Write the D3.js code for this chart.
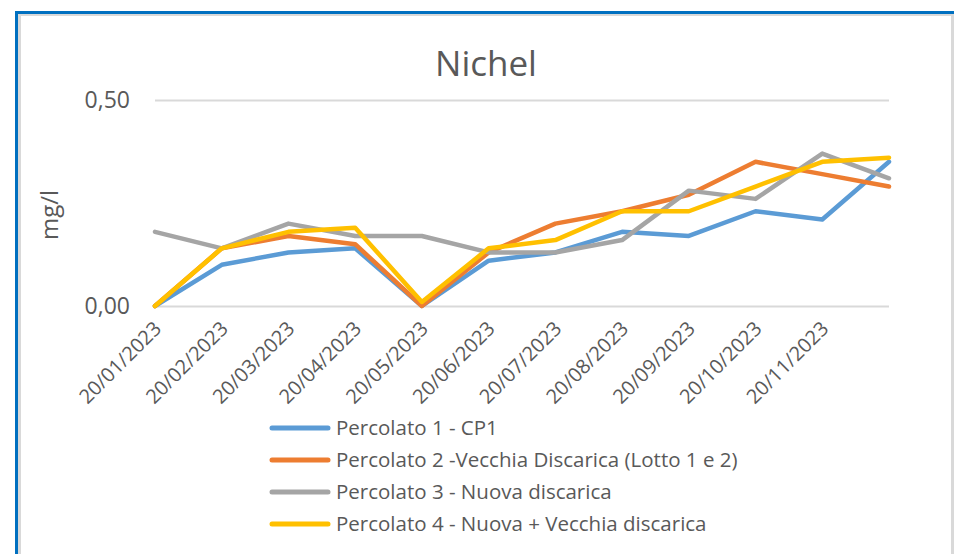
<!DOCTYPE html>
<html>
<head>
<meta charset="utf-8">
<script src="https://cdn.jsdelivr.net/npm/d3@7"></script>
<style>
  html, body { margin: 0; padding: 0; background: #fff; }
  svg { display: block; }
  text { font-family: "Open Sans", sans-serif; fill: #595959; }
</style>
</head>
<body>
<svg id="chart" width="954" height="554"></svg>
<script>
const categories = ["20/01/2023","20/02/2023","20/03/2023","20/04/2023","20/05/2023","20/06/2023",
                    "20/07/2023","20/08/2023","20/09/2023","20/10/2023","20/11/2023","20/12/2023"];
const tickLabels = ["20/01/2023","20/02/2023","20/03/2023","20/04/2023","20/05/2023","20/06/2023",
                    "20/07/2023","20/08/2023","20/09/2023","20/10/2023","20/11/2023"];
const yTicks = [0, 0.5];
const seriesNames = ["Percolato 1 - CP1",
                     "Percolato 2 -Vecchia Discarica (Lotto 1 e 2)",
                     "Percolato 3 - Nuova discarica",
                     "Percolato 4 - Nuova + Vecchia discarica"];
const seriesColors = ["#5B9BD5", "#ED7D31", "#A5A5A5", "#FFC000"];
const percolato1 = [0.00, 0.10, 0.13, 0.14, 0.00, 0.11, 0.13, 0.18, 0.17, 0.23, 0.21, 0.35];
const percolato2 = [0.00, 0.14, 0.17, 0.15, 0.00, 0.13, 0.20, 0.23, 0.27, 0.35, 0.32, 0.29];
const percolato3 = [0.18, 0.14, 0.20, 0.17, 0.17, 0.13, 0.13, 0.16, 0.28, 0.26, 0.37, 0.31];
const percolato4 = [0.00, 0.14, 0.18, 0.19, 0.01, 0.14, 0.16, 0.23, 0.23, 0.29, 0.35, 0.36];
const seriesValues = [percolato1, percolato2, percolato3, percolato4];

const svg = d3.select("#chart");
const fmt = d => d3.format(".2f")(d).replace(".", ",");

// frame
svg.append("rect").attr("x", 0).attr("y", 0).attr("width", 954).attr("height", 554).attr("fill", "#fff");
svg.append("rect").attr("x", 15).attr("y", 11).attr("width", 939).attr("height", 3).attr("fill", "#0070C0");
svg.append("rect").attr("x", 15).attr("y", 11).attr("width", 3).attr("height", 543).attr("fill", "#0070C0");
svg.append("rect").attr("x", 18).attr("y", 14).attr("width", 936).attr("height", 2).attr("fill", "#D9D9D9");
svg.append("rect").attr("x", 18).attr("y", 14).attr("width", 3).attr("height", 540).attr("fill", "#D9D9D9");
svg.append("rect").attr("x", 951).attr("y", 14).attr("width", 3).attr("height", 540).attr("fill", "#D9D9D9");

const x = d3.scalePoint().domain(categories).range([155, 889]);
const y = d3.scaleLinear().domain([0, 0.5]).range([306, 100]);

// title
svg.append("text").attr("x", 486).attr("y", 76).attr("text-anchor", "middle")
  .style("font-size", "35px").text("Nichel");

// y axis label
svg.append("text").attr("transform", "translate(58,215) rotate(-90)")
  .attr("text-anchor", "middle").style("font-size", "24px").text("mg/l");

// gridlines
const yAxis = d3.axisLeft(y).tickValues(yTicks).tickSize(-(889 - 155)).tickFormat(fmt).tickPadding(25);
const gy = svg.append("g").attr("transform", "translate(155,0)").call(yAxis);
gy.select(".domain").remove();
gy.selectAll(".tick line").attr("stroke", "#D9D9D9").attr("stroke-width", 2);
gy.selectAll(".tick text").style("font-size", "23px").attr("fill", "#595959")
  .attr("font-family", "Open Sans, sans-serif");

// x axis
const xAxis = d3.axisBottom(x).tickValues(tickLabels).tickSize(0).tickPadding(0);
const gx = svg.append("g").attr("transform", "translate(0,306)").call(xAxis);
gx.select(".domain").remove();
gx.selectAll(".tick text")
  .style("font-size", "20px").attr("fill", "#595959").attr("font-family", "Open Sans, sans-serif")
  .attr("text-anchor", "end").attr("dy", null).attr("y", 0)
  .attr("transform", "translate(7,24) rotate(-45)");

// lines
const line = d3.line().x((d, i) => x(categories[i])).y(d => y(d));
seriesValues.forEach((vals, k) => {
  svg.append("path").datum(vals).attr("d", line)
    .attr("fill", "none").attr("stroke", seriesColors[k]).attr("stroke-width", 4.5)
    .attr("stroke-linejoin", "round").attr("stroke-linecap", "round");
});

// legend
const leg = svg.append("g");
const legY = d3.scalePoint().domain(seriesNames).range([428, 524]);
seriesNames.forEach((name, k) => {
  const yy = legY(name);
  leg.append("line").attr("x1", 272).attr("x2", 328).attr("y1", yy).attr("y2", yy)
    .attr("stroke", seriesColors[k]).attr("stroke-width", 5).attr("stroke-linecap", "round");
  leg.append("text").attr("x", 336).attr("y", yy + 7).style("font-size", "20.5px").text(name);
});
</script>
</body>
</html>
